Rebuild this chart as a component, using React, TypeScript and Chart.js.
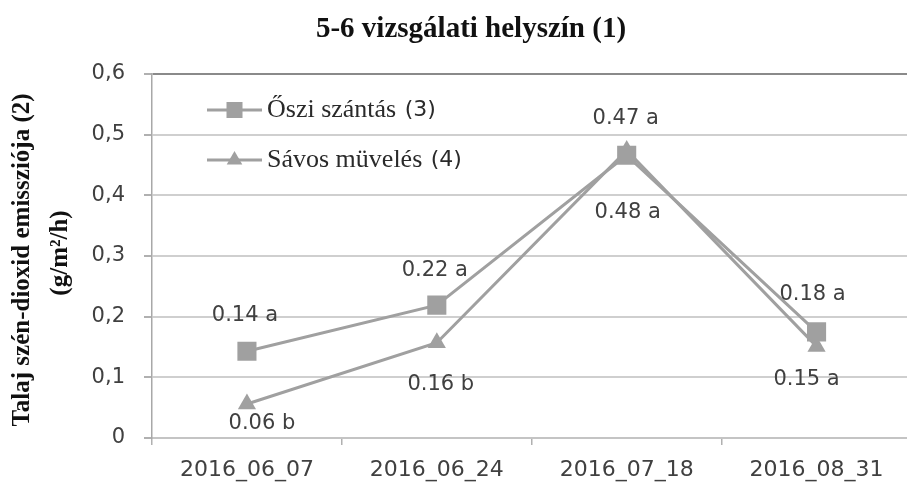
import React, { useEffect, useRef } from "react";
import { Chart, registerables } from "chart.js";

Chart.register(...registerables);

const chartTitle = "5-6 vizsgálati helyszín (1)";
const yTitleLines = ["Talaj szén-dioxid emissziója (2)", "(g/m²/h)"];
const categories = ["2016_06_07", "2016_06_24", "2016_07_18", "2016_08_31"];
const seriesNames = ["Őszi szántás (3)", "Sávos müvelés (4)"];
const osziValues = [0.143, 0.219, 0.466, 0.175];
const savosValues = [0.056, 0.157, 0.474, 0.151];
const osziLabels = ["0.14 a", "0.22 a", "0.47 a", "0.18 a"];
const savosLabels = ["0.06 b", "0.16 b", "0.48 a", "0.15 a"];
const yMin = 0;
const yMax = 0.6;
const yStep = 0.1;

const GRAY = "#a0a0a0";
const TEXT = "#404040";

// label placement offsets (style, not data)
const labelOffsets = [
  [[-2, -36], [-2, -35], [-1, -37], [-4, -37]],
  [[15, 20], [4, 42], [1, 62], [-10, 33]],
];

const overlayPlugin = {
  id: "overlay",
  afterDatasetsDraw(chart: any) {
    const ctx = chart.ctx;
    ctx.save();
    // data labels
    const allLabels = [osziLabels, savosLabels];
    ctx.fillStyle = TEXT;
    ctx.font = "21px 'DejaVu Sans'";
    ctx.textAlign = "center";
    ctx.textBaseline = "middle";
    chart.data.datasets.forEach((ds: any, di: number) => {
      const meta = chart.getDatasetMeta(di);
      meta.data.forEach((pt: any, i: number) => {
        const off = labelOffsets[di][i];
        ctx.fillText(allLabels[di][i], pt.x + off[0], pt.y + off[1]);
      });
    });

    // legend inside plot
    const area = chart.chartArea;
    const rows = [area.top + 36, area.top + 86];
    chart.data.datasets.forEach((ds: any, di: number) => {
      const y = rows[di];
      const x0 = area.left + 55;
      const x1 = area.left + 110;
      ctx.strokeStyle = ds.borderColor;
      ctx.lineWidth = 3;
      ctx.beginPath();
      ctx.moveTo(x0, y);
      ctx.lineTo(x1, y);
      ctx.stroke();
      ctx.fillStyle = ds.pointBackgroundColor;
      const cx = (x0 + x1) / 2;
      if (ds.pointStyle === "rect") {
        ctx.fillRect(cx - 8, y - 8, 16, 16);
      } else {
        const r = 9;
        ctx.beginPath();
        ctx.moveTo(cx, y - r);
        ctx.lineTo(cx + r * 0.866, y + r / 2);
        ctx.lineTo(cx - r * 0.866, y + r / 2);
        ctx.closePath();
        ctx.fill();
      }
      const label: string = ds.label;
      const idx = label.lastIndexOf(" (");
      const name = label.slice(0, idx + 1);
      const num = label.slice(idx + 1);
      ctx.fillStyle = "#2a2a2a";
      ctx.textAlign = "left";
      ctx.textBaseline = "middle";
      ctx.font = "26px 'Liberation Serif'";
      const tx = x1 + 5;
      ctx.fillText(name, tx, y);
      const w = ctx.measureText(name).width;
      ctx.font = "22px 'DejaVu Sans'";
      ctx.fillText(num, tx + w + 2, y);
    });

    // main title
    ctx.fillStyle = "#111";
    ctx.font = "bold 29px 'Liberation Serif'";
    ctx.textAlign = "center";
    ctx.textBaseline = "middle";
    ctx.fillText(chartTitle, 471, 30);

    // y axis title
    ctx.font = "bold 25px 'Liberation Serif'";
    const centers = [
      [23, 260],
      [61, 253],
    ];
    yTitleLines.forEach((line, i) => {
      ctx.save();
      ctx.translate(centers[i][0], centers[i][1]);
      ctx.rotate(-Math.PI / 2);
      ctx.fillText(line, 0, 0);
      ctx.restore();
    });
    ctx.restore();
  },
};

export default function App() {
  const ref = useRef<HTMLCanvasElement>(null);
  useEffect(() => {
    if (!ref.current) return;
    const chart = new Chart(ref.current, {
      type: "line",
      data: {
        labels: categories,
        datasets: [
          {
            label: seriesNames[0],
            data: osziValues,
            borderColor: GRAY,
            backgroundColor: GRAY,
            pointBackgroundColor: GRAY,
            pointBorderColor: GRAY,
            borderWidth: 3,
            pointStyle: "rect",
            pointRadius: 13.5,
            pointBorderWidth: 0,
          },
          {
            label: seriesNames[1],
            data: savosValues,
            borderColor: GRAY,
            backgroundColor: GRAY,
            pointBackgroundColor: GRAY,
            pointBorderColor: GRAY,
            borderWidth: 3,
            pointStyle: "triangle",
            pointRadius: 10.5,
            pointBorderWidth: 0,
          },
        ],
      },
      options: {
        responsive: false,
        animation: false,
        layout: { padding: { left: 0, top: 74, right: 10, bottom: 0 } },
        plugins: {
          legend: { display: false },
          title: { display: false },
          tooltip: { enabled: false },
        },
        scales: {
          x: {
            offset: true,
            grid: {
              offset: true,
              drawOnChartArea: false,
              drawTicks: true,
              tickLength: 7,
              tickColor: "#b0b0b0",
              lineWidth: 1.5,
            },
            border: { display: true, color: "#c4c4c4", width: 2 },
            ticks: {
              color: TEXT,
              font: { family: "'DejaVu Sans'", size: 22 },
              padding: 12,
              maxRotation: 0,
            },
            afterFit: (s: any) => {
              s.height = 46;
            },
          },
          y: {
            min: yMin,
            max: yMax,
            ticks: {
              stepSize: yStep,
              color: TEXT,
              font: { family: "'DejaVu Sans'", size: 21 },
              padding: 19,
              callback: (v: any) => {
                const n = Number(v);
                if (n === 0) return "0";
                return n.toFixed(1).replace(".", ",");
              },
            },
            grid: {
              color: (c: any) =>
                c.tick && Math.abs(c.tick.value - yMax) < 1e-9 ? "#8a8a8a" : "#cfcfcf",
              lineWidth: 2,
              tickLength: 8,
              tickColor: "#b0b0b0",
            },
            border: { display: true, color: "#a8a8a8", width: 1.5 },
            afterFit: (s: any) => {
              s.width = 152;
            },
          },
        },
      },
      plugins: [overlayPlugin],
    });
    return () => chart.destroy();
  }, []);
  return (
    <div
      style={{
        position: "absolute",
        left: 0,
        top: 0,
        width: 907,
        height: 484,
        overflow: "hidden",
        background: "#fff",
      }}
    >
      <canvas ref={ref} width={925} height={484} style={{ display: "block" }} />
    </div>
  );
}
